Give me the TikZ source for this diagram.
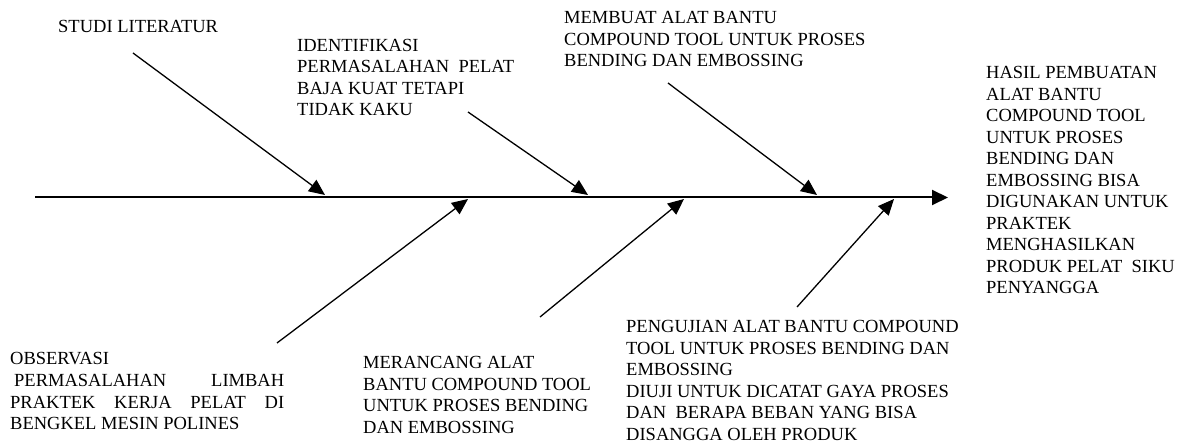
\documentclass[tikz,border=0pt]{standalone}
\usepackage{fontspec}
\setmainfont{Liberation Serif}
\usetikzlibrary{arrows.meta}
\begin{document}
\begin{tikzpicture}[x=1pt,y=-1pt,
  lbl/.style={anchor=base west,align=left,inner sep=0pt,font=\fontsize{18.5}{21.5}\selectfont},
  spine/.style={line width=2pt,-{Triangle[length=16pt,width=15pt]}},
  bone/.style={line width=1.3pt,-{Triangle[length=16pt,width=14pt]}}]
\useasboundingbox (0,0) rectangle (1189,446);
% spine
\coordinate (s0) at (35,197.5);
\coordinate (s1) at (948,197.5);
\draw[spine] (s0) -- (s1);
% bone end points on spine
\coordinate (t1) at (325,195);
\coordinate (t2) at (588,195);
\coordinate (t3) at (817,195);
\coordinate (b1) at (468,199);
\coordinate (b2) at (684,199);
\coordinate (b3) at (894,199);
% free ends
\coordinate (f1) at (133,53);
\coordinate (f2) at (468,112);
\coordinate (f3) at (668,83);
\coordinate (g1) at (277,343);
\coordinate (g2) at (540,317);
\coordinate (g3) at (797,307);
\draw[bone] (f1) -- (t1);
\draw[bone] (f2) -- (t2);
\draw[bone] (f3) -- (t3);
\draw[bone] (g1) -- (b1);
\draw[bone] (g2) -- (b2);
\draw[bone] (g3) -- (b3);
% labels (base anchor = baseline of the last line)
\node[lbl] (studi) at (58,33) {STUDI LITERATUR};
\node[lbl] (ident) at (297,116) {IDENTIFIKASI\\PERMASALAHAN\ \ PELAT\\BAJA KUAT TETAPI\\TIDAK KAKU};
\node[lbl] (membuat) at (564,67) {MEMBUAT ALAT BANTU\\COMPOUND TOOL UNTUK PROSES\\BENDING DAN EMBOSSING};
\node[lbl] (hasil) at (986,294) {HASIL PEMBUATAN\\ALAT BANTU\\COMPOUND TOOL\\UNTUK PROSES\\BENDING DAN\\EMBOSSING BISA\\DIGUNAKAN UNTUK\\PRAKTEK\\MENGHASILKAN\\PRODUK PELAT\ \ SIKU\\PENYANGGA};
\node[lbl] (obs) at (10,365) {\parbox[t]{274pt}{\fontsize{18.5}{21.6}\selectfont OBSERVASI\\\hspace*{4pt}PERMASALAHAN\hfill LIMBAH\\PRAKTEK\hfill KERJA\hfill PELAT\hfill DI\\BENGKEL MESIN POLINES}};
\node[lbl] (merancang) at (363,433) {MERANCANG ALAT\\BANTU COMPOUND TOOL\\UNTUK PROSES BENDING\\DAN EMBOSSING};
\node[lbl] (uji) at (626,440) {\fontsize{18.5}{21.3}\selectfont PENGUJIAN ALAT BANTU COMPOUND\\TOOL UNTUK PROSES BENDING DAN\\EMBOSSING\\DIUJI UNTUK DICATAT GAYA PROSES\\DAN\ \ BERAPA BEBAN YANG BISA\\DISANGGA OLEH PRODUK};
\end{tikzpicture}
\end{document}
